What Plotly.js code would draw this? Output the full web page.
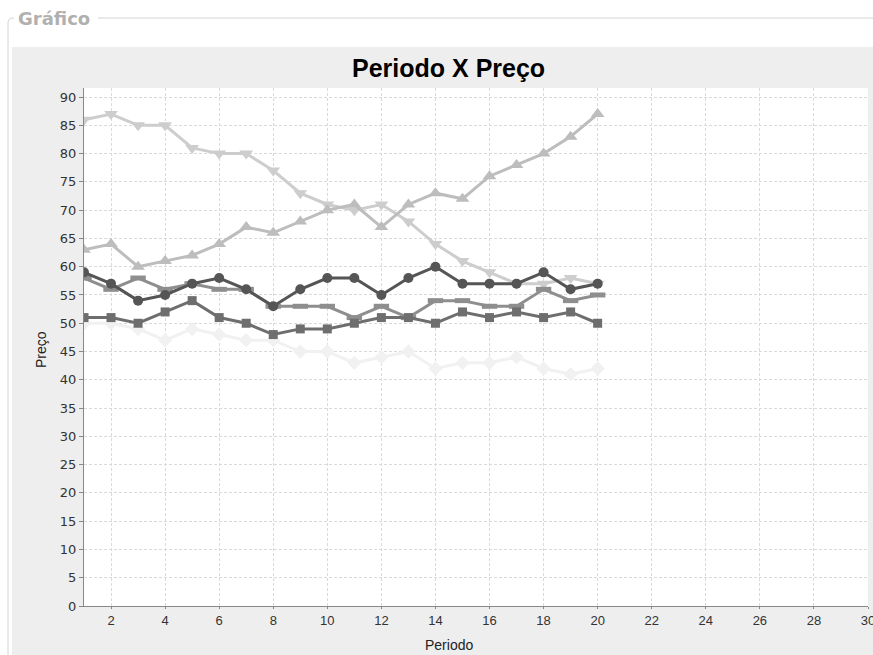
<!DOCTYPE html>
<html>
<head>
<meta charset="utf-8">
<script src="https://cdn.plot.ly/plotly-3.0.1.min.js"></script>
<style>html,body{margin:0;padding:0;background:#fff;}#chart{width:873px;height:655px;}</style>
</head>
<body>
<div id="chart"></div>
<script>
var periodos = [1,2,3,4,5,6,7,8,9,10,11,12,13,14,15,16,17,18,19,20];
var serieQuadrado = [51,51,50,52,54,51,50,48,49,49,50,51,51,50,52,51,52,51,52,50];
var serieCirculo  = [59,57,54,55,57,58,56,53,56,58,58,55,58,60,57,57,57,59,56,57];
var serieTriCima  = [63,64,60,61,62,64,67,66,68,70,71,67,71,73,72,76,78,80,83,87];
var serieLosango  = [50,50,49,47,49,48,47,47,45,45,43,44,45,42,43,43,44,42,41,42];
var serieRetang   = [58,56,58,56,57,56,56,53,53,53,51,53,51,54,54,53,53,56,54,55];
var serieTriBaixo = [86,87,85,85,81,80,80,77,73,71,70,71,68,64,61,59,57,57,58,57];

function px(x){return (x-84)/784;}
function py(y){return (606-y)/518;}

function tr(y, color, symbol, size, extra){
  var m = {symbol: symbol, size: size, color: color, line: {width: 0}};
  if (extra) { m.line = {width: extra, color: color}; }
  return {x: periodos, y: y, type: 'scatter', mode: 'lines+markers',
    line: {color: color, width: 3}, marker: m, hoverinfo: 'x+y', showlegend: false};
}

var data = [
  tr(serieTriBaixo, '#cdcdcd', 'triangle-down', 12),
  tr(serieRetang, '#8e8e8e', 'line-ew-open', 11, 5),
  tr(serieLosango, '#f1f1f1', 'diamond', 11),
  tr(serieTriCima, '#bdbdbd', 'triangle-up', 12),
  tr(serieCirculo, '#555555', 'circle', 10),
  tr(serieQuadrado, '#6e6e6e', 'square', 9)
];

var layout = {
  width: 873, height: 655,
  margin: {l: 84, r: 5, t: 88, b: 49, pad: 0},
  paper_bgcolor: '#ffffff', plot_bgcolor: '#ffffff',
  showlegend: false,
  xaxis: {
    range: [1, 30], tick0: 2, dtick: 2, zeroline: false,
    showline: true, linecolor: '#888888', linewidth: 1,
    ticks: 'outside', ticklen: 2, tickcolor: '#888888',
    ticklabeloverflow: 'allow',
    showgrid: true, gridcolor: '#dadada', griddash: '3px,2px', gridwidth: 1,
    tickfont: {family: 'Liberation Sans, Arial, sans-serif', size: 13, color: '#333333'}
  },
  yaxis: {
    range: [0, 91.6], tick0: 0, dtick: 5, zeroline: false,
    showline: true, linecolor: '#888888', linewidth: 1,
    ticks: 'outside', ticklen: 4, tickcolor: '#888888',
    showgrid: true, gridcolor: '#dadada', griddash: '3px,2px', gridwidth: 1,
    tickfont: {family: 'DejaVu Sans, sans-serif', size: 13, color: '#333333'}
  },
  shapes: [
    {type: 'rect', xref: 'paper', yref: 'paper', x0: px(12), x1: px(880), y0: py(47), y1: py(700),
      fillcolor: '#eeeeee', line: {width: 0}, layer: 'below'},
    {type: 'rect', xref: 'paper', yref: 'paper', x0: 0, x1: 1, y0: 0, y1: 1,
      fillcolor: '#ffffff', line: {width: 0}, layer: 'below'},
    {type: 'line', xref: 'paper', yref: 'paper', x0: px(98), x1: px(880), y0: py(18), y1: py(18),
      line: {color: '#d4d4d4', width: 1}, layer: 'below'},
    {type: 'path', xref: 'paper', yref: 'paper',
      path: 'M ' + px(8) + ',' + py(700) + ' L ' + px(8) + ',' + py(23) + ' Q ' + px(8) + ',' + py(18) + ' ' + px(13) + ',' + py(18) + ' L ' + px(14) + ',' + py(18),
      line: {color: '#d4d4d4', width: 1}, layer: 'below'}
  ],
  annotations: [
    {text: 'Periodo X Preço', xref: 'paper', yref: 'paper', x: px(448), y: py(68),
      xanchor: 'center', yanchor: 'middle', showarrow: false,
      font: {family: 'Liberation Sans, Arial, sans-serif', size: 25, color: '#000000', weight: 'bold'}},
    {text: 'Preço', xref: 'paper', yref: 'paper', x: px(41), y: py(350),
      xanchor: 'center', yanchor: 'middle', showarrow: false, textangle: -90,
      font: {family: 'Liberation Sans, Arial, sans-serif', size: 14, color: '#222222'}},
    {text: 'Periodo', xref: 'paper', yref: 'paper', x: px(449), y: py(645),
      xanchor: 'center', yanchor: 'middle', showarrow: false,
      font: {family: 'Liberation Sans, Arial, sans-serif', size: 14, color: '#222222'}},
    {text: 'Gráfico', xref: 'paper', yref: 'paper', x: px(16), y: py(18),
      xanchor: 'left', yanchor: 'middle', showarrow: false,
      font: {family: 'DejaVu Sans, sans-serif', size: 18, color: '#b0b0b0', weight: 'bold'}}
  ]
};

Plotly.newPlot('chart', data, layout, {displayModeBar: false, staticPlot: true});
</script>
</body>
</html>
